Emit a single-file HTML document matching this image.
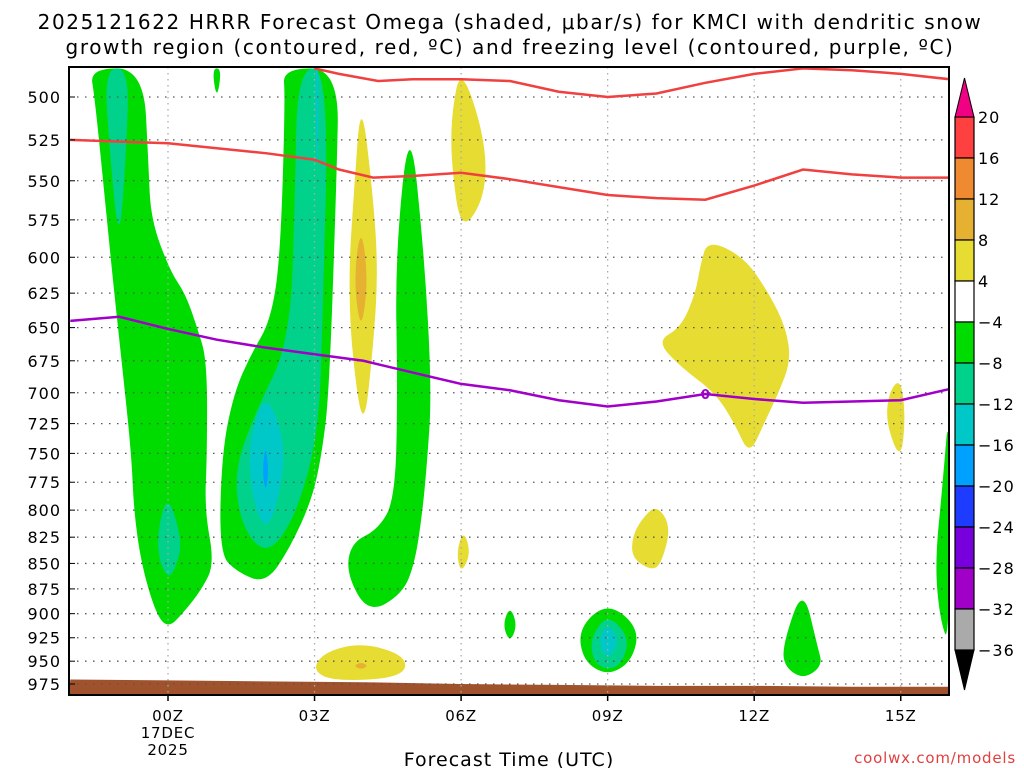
<!DOCTYPE html>
<html><head><meta charset="utf-8"><style>
html,body{margin:0;padding:0;background:#fff;}
svg{display:block;font-family:"DejaVu Sans","Liberation Sans",sans-serif;}
</style></head><body>
<svg id="chart" width="1024" height="768" viewBox="0 0 1024 768">
<text x="510" y="29" font-size="20" letter-spacing="1.6" text-anchor="middle">2025121622 HRRR Forecast Omega (shaded, μbar/s) for KMCI with dendritic snow</text>
<text x="510" y="54" font-size="20" letter-spacing="1.6" text-anchor="middle">growth region (contoured, red, ºC) and freezing level (contoured, purple, ºC)</text>
<g id="shades"></g>
<g id="grid"></g>
<g id="lines"></g>
<rect x="69" y="67" width="880" height="628" fill="none" stroke="#000" stroke-width="2"/>
<g id="yaxis"></g>
<g id="xaxis"></g>
<text x="509" y="766" font-size="19" letter-spacing="1" text-anchor="middle">Forecast Time (UTC)</text>
<text x="1016" y="763" font-size="15" letter-spacing="0.8" fill="#e04040" text-anchor="end">coolwx.com/models</text>
<g id="cbar"></g>
</svg>
<script>
const NS="http://www.w3.org/2000/svg";
const pressureTicks=[500,525,550,575,600,625,650,675,700,725,750,775,800,825,850,875,900,925,950,975];
const timeTicks=[0,3,6,9,12,15];
const timeLabels=["00Z","03Z","06Z","09Z","12Z","15Z"];
const cbarLevels=[20,16,12,8,4,-4,-8,-12,-16,-20,-24,-28,-32,-36];
const cbarColors=["#ff4040","#f08a30","#e6b030","#e6dc32","#ffffff","#00dc00","#00d28c","#00c8c8","#00a0ff","#1e3cff","#7800dc","#a000c8","#aaaaaa"];
const greenPlume1=[[-1.6,484],[-0.5,484],[-0.4,540],[-0.35,575],[0.05,610],[0.35,625],[0.6,650],[0.8,675],[0.8,750],[0.75,800],[0.95,850],[0.7,875],[0.3,900],[0,915],[-0.25,900],[-0.55,850],[-0.7,800],[-0.75,750],[-0.95,675],[-1.1,625],[-1.25,575],[-1.5,500]];
const tealPlume1Top=[[-1.3,484],[-0.8,484],[-0.85,530],[-1.0,595],[-1.2,530]];
const tealPlume1Low=[[0,785],[0.3,830],[0.15,855],[0,865],[-0.2,845],[-0.2,815]];
const greenTiny1=[[0.9,484],[1.1,484],[1.0,502]];
const greenPlume2=[[2.35,484],[3.5,484],[3.45,550],[3.3,700],[3.15,750],[2.95,790],[2.5,835],[2.0,870],[1.4,858],[1.05,840],[1.1,750],[1.35,700],[1.7,670],[2.1,645],[2.3,600],[2.4,500]];
const tealPlume2=[[2.65,484],[3.3,484],[3.15,660],[3.1,715],[2.9,765],[2.5,815],[2.0,842],[1.5,815],[1.35,765],[1.8,715],[2.5,660],[2.6,560]];
const cyanPlume2=[[2.0,698],[2.4,740],[2.3,785],[2.0,822],[1.7,785],[1.65,740]];
const cyanStrip=[[3.0,484],[3.1,484],[3.05,560]];
const bluePlume2=[[2.0,742],[2.06,765],[2.0,785],[1.93,765]];
const yellow04=[[3.95,498],[4.2,560],[4.3,610],[4.2,665],[4.0,735],[3.75,665],[3.7,610],[3.8,560]];
const orange04=[[3.95,578],[4.1,615],[3.95,655],[3.8,615]];
const green05=[[4.95,510],[5.25,600],[5.4,700],[5.3,760],[5.2,805],[5.05,850],[4.8,880],[4.1,900],[3.65,860],[3.75,830],[4.3,818],[4.65,790],[4.7,700],[4.65,600]];
const yellow06=[[6.0,482],[6.5,525],[6.5,560],[6.0,584],[5.8,540],[5.8,510]];
const yellow06b=[[6.05,818],[6.2,840],[6.0,860],[5.9,840]];
const green07=[[7.0,892],[7.15,912],[7.0,930],[6.85,912]];
const green09=[[9.0,888],[9.65,915],[9.5,950],[9.0,966],[8.5,950],[8.4,915]];
const teal09=[[9.0,900],[9.45,925],[9.3,952],[9.0,960],[8.7,950],[8.65,925]];
const cyan09=[[9.0,910],[9.25,928],[9.0,950],[8.8,928]];
const yellow11=[[11.05,588],[11.8,600],[12.3,625],[12.65,650],[12.75,675],[12.5,700],[12.2,725],[11.9,752],[11.6,725],[11.2,700],[10.5,680],[10.0,660],[10.5,650],[10.8,625],[10.9,605]];
const yellow10=[[10.0,795],[10.3,815],[10.1,850],[9.9,857],[9.5,845],[9.5,825],[9.7,808]];
const yellow15=[[15.0,688],[15.1,720],[15.0,757],[14.7,725],[14.75,700]];
const green13=[[13.0,872],[13.3,935],[13.4,955],[13.0,970],[12.6,955],[12.6,930]];
const green16=[[16.0,705],[16.0,935],[15.8,905],[15.7,850],[15.85,780]];
const yellowSfc=[[4.0,930],[4.9,945],[4.8,968],[3.4,972],[2.95,960],[3.2,940]];
const orangeSfc=[[3.95,951],[4.1,955],[3.95,959],[3.8,955]];
const shadeList=[
 [greenPlume1,"#00dc00"],[tealPlume1Top,"#00d28c"],[tealPlume1Low,"#00d28c"],[greenTiny1,"#00dc00"],
 [greenPlume2,"#00dc00"],[tealPlume2,"#00d28c"],[cyanPlume2,"#00c8c8"],[cyanStrip,"#00c8c8"],[bluePlume2,"#00a0ff"],
 [yellow04,"#e6dc32"],[orange04,"#e6b030"],[green05,"#00dc00"],[yellow06,"#e6dc32"],[yellow06b,"#e6dc32"],
 [green07,"#00dc00"],[green09,"#00dc00"],[teal09,"#00d28c"],[cyan09,"#00c8c8"],[yellow11,"#e6dc32"],
 [yellow10,"#e6dc32"],[yellow15,"#e6dc32"],[green13,"#00dc00"],[green16,"#00dc00"],[yellowSfc,"#e6dc32"],[orangeSfc,"#e6b030"]];
const redHours=[-2,0,1,2,3,3.5,4.2,5,6,7,8,9,10,11,12,13,14,15,16];
const redLowP=[525,527,530,533,537,543,548,547,545,549,554,559,561,562,553,543,546,548,548];
const redTopHours=[3.0,3.5,4.3,5,6,7,8,9,10,11,12,13,14,15,16];
const redTopP=[484,487,491,490,490,491,497,500,498,492,487,484,485,487,490];
const purpleHours=[-2,-1,0,1,2,3,4,5,6,7,8,9,10,11,12,13,14,15,16];
const purpleP=[645,642,651,659,665,670,675,684,693,698,706,711,707,701,705,708,707,706,697];
const groundHours=[-2,0,2,4,6,8,10,12,14,16];
const groundP=[970,971,972,973,975,976,977,977,978,978];

const X=h=>168+h*48.85;
const Y=p=>97+879*Math.log(p/500);
function mk(tag,attrs,parent){const e=document.createElementNS(NS,tag);for(const k in attrs)e.setAttribute(k,attrs[k]);parent.appendChild(e);return e;}
function smoothPath(pts){
 const P=pts.map(([h,p])=>[X(h),Y(p)]);const n=P.length;let d="";
 for(let i=0;i<n;i++){const a=P[i],b=P[(i+1)%n];const m=[(a[0]+b[0])/2,(a[1]+b[1])/2];
  if(i===0){const pm=P[n-1];d+="M"+((pm[0]+a[0])/2)+","+((pm[1]+a[1])/2);}
  d+=" Q"+a[0]+","+a[1]+" "+m[0]+","+m[1];}
 return d+"Z";
}
const svgRoot=document.getElementById("chart");
const defsEl=mk("defs",{},svgRoot);
const cpEl=mk("clipPath",{id:"plotclip"},defsEl);mk("rect",{x:70,y:68,width:878,height:626},cpEl);
const shades=document.getElementById("shades");shades.setAttribute("clip-path","url(#plotclip)");
shadeList.forEach(([pts,c])=>{const e=mk("path",{d:smoothPath(pts),fill:c},shades);
 
 });
let gd="M"+X(groundHours[0])+","+Y(groundP[0]);
groundHours.forEach((h,i)=>gd+=" L"+X(h)+","+Y(groundP[i]));
gd+=" L949,695 L69,695Z";
const gEl=mk("path",{d:gd,fill:"#a0522d"},shades);


const grid=document.getElementById("grid"),ya=document.getElementById("yaxis"),xa=document.getElementById("xaxis");
pressureTicks.forEach(p=>{const y=Y(p);
 const l=mk("line",{x1:69,x2:949,y1:y,y2:y,stroke:"#555","stroke-width":1.3,"stroke-dasharray":"1.5 6.5"},grid);
 
 
 const t=mk("text",{x:61,y:y+6,"font-size":16,"letter-spacing":1,"text-anchor":"end"},ya);t.textContent=p;
 
 
 mk("line",{x1:69,x2:75,y1:y,y2:y,stroke:"#000"},ya);});
timeTicks.forEach((h,i)=>{const x=X(h);
 const l=mk("line",{x1:x,x2:x,y1:67,y2:695,stroke:"#aaa","stroke-width":1.3,"stroke-dasharray":"1.5 4.5"},grid);
 
 
 mk("line",{x1:x,x2:x,y1:695,y2:701,stroke:"#000","stroke-width":1.5},xa);
 const t=mk("text",{x:x,y:721,"font-size":15,"letter-spacing":0.8,"text-anchor":"middle"},xa);t.textContent=timeLabels[i];
 
 });
[["17DEC",738],["2025",755]].forEach(([s,y])=>{const t=mk("text",{x:X(0),y:y,"font-size":15,"letter-spacing":0.8,"text-anchor":"middle"},xa);t.textContent=s;
 
 });
const lines=document.getElementById("lines");lines.setAttribute("clip-path","url(#plotclip)");
function poly(hs,ps,color,name){const e=mk("polyline",{points:hs.map((h,i)=>X(h)+","+Y(ps[i])).join(" "),fill:"none",stroke:color,"stroke-width":2.5},lines);
 
 }
poly(redTopHours,redTopP,"#f04040","dgz-upper-contour");
poly(redHours,redLowP,"#f04040","dgz-lower-contour");
poly(purpleHours,purpleP,"#a000c8","freezing-level-contour");
const fl=mk("text",{x:X(11),y:Y(701)+5,"font-size":13,"font-weight":"bold",fill:"#a000c8","text-anchor":"middle"},lines);fl.textContent="0";


const cb=document.getElementById("cbar");const bx=955,bw=19,cbTop=117,bh=41;
cbarColors.forEach((c,i)=>{const r=mk("rect",{x:bx,y:cbTop+i*bh,width:bw,height:bh,fill:c,stroke:"#000","stroke-width":1.2},cb);
 
 });
mk("polygon",{points:`${bx},${cbTop} ${bx+bw},${cbTop} ${bx+bw/2},78`,fill:"#f00082",stroke:"#000"},cb);
const cbBot=cbTop+cbarColors.length*bh;
mk("polygon",{points:`${bx},${cbBot} ${bx+bw},${cbBot} ${bx+bw/2},690`,fill:"#000",stroke:"#000"},cb);
cbarLevels.forEach((v,i)=>{const t=mk("text",{x:978,y:cbTop+i*bh+6,"font-size":16,"letter-spacing":1},cb);t.textContent=v<0?"−"+(-v):v;
 
 });
</script>
</body></html>
